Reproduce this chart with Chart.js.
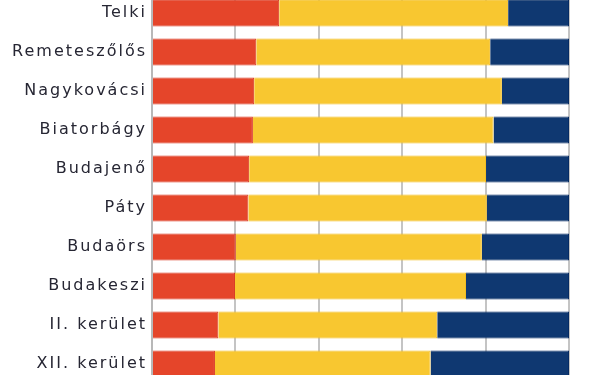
<!DOCTYPE html>
<html>
<head>
<meta charset="utf-8">
<script src="https://cdn.jsdelivr.net/npm/chart.js@4/dist/chart.umd.min.js"></script>
<style>
  html, body { margin: 0; padding: 0; background: #fff; overflow: hidden; }
  #wrap { position: absolute; left: 0; top: -21px; width: 605px; height: 419px; }
</style>
</head>
<body>
<div id="wrap"><canvas id="chart"></canvas></div>
<script>
// Data (percent shares)
var places = ['Telki', 'Remeteszőlős', 'Nagykovácsi', 'Biatorbágy', 'Budajenő',
              'Páty', 'Budaörs', 'Budakeszi', 'II. kerület', 'XII. kerület'];
var redPart    = [30.5, 25.0, 24.5, 24.2, 23.3, 23.1, 20.1, 19.9, 15.9, 15.1];
var yellowPart = [54.9, 56.1, 59.4, 57.7, 56.8, 57.2, 59.0, 55.4, 52.5, 51.7];
var bluePart   = [14.6, 18.9, 16.1, 18.1, 19.9, 19.7, 20.9, 24.7, 31.6, 33.2];
var xTicks = [0, 20, 40, 60, 80, 100];

// canvas text spacing, the labels are spread out in the original
var spacingPlugin = {
	id: 'spacing',
	beforeDraw: function(chart) { chart.ctx.letterSpacing = '2px'; }
};

var ctx = document.getElementById('chart');
new Chart(ctx, {
	type: 'bar',
	data: {
		labels: places,
		datasets: [
			{ data: redPart, backgroundColor: '#E5452A', borderColor: '#DA3A22', borderWidth: 1 },
			{ data: yellowPart, backgroundColor: '#F8C730', borderColor: '#F3BE22', borderWidth: 1 },
			{ data: bluePart, backgroundColor: '#0F3871', borderColor: '#062B63', borderWidth: 1 }
		]
	},
	options: {
		indexAxis: 'y',
		responsive: true,
		maintainAspectRatio: false,
		animation: false,
		layout: { padding: { left: 0, right: 36, top: 0, bottom: 0 } },
		datasets: { bar: { categoryPercentage: 1, barPercentage: 0.69 } },
		plugins: { legend: { display: false }, tooltip: { enabled: false } },
		scales: {
			x: {
				stacked: true,
				min: 0,
				max: 100,
				afterBuildTicks: function(axis) { axis.ticks = xTicks.map(function(v) { return { value: v }; }); },
				ticks: { display: false },
				grid: { color: '#C4C4C4', lineWidth: 2, drawTicks: false },
				border: { display: false }
			},
			y: {
				stacked: true,
				afterFit: function(axis) { axis.width = 152; },
				ticks: { color: '#262633', padding: 5, font: { family: 'DejaVu Sans', size: 16 } },
				grid: { display: false, drawTicks: false },
				border: { display: true, color: '#B8B8B8', width: 2 }
			}
		}
	},
	plugins: [spacingPlugin]
});
</script>
</body>
</html>
